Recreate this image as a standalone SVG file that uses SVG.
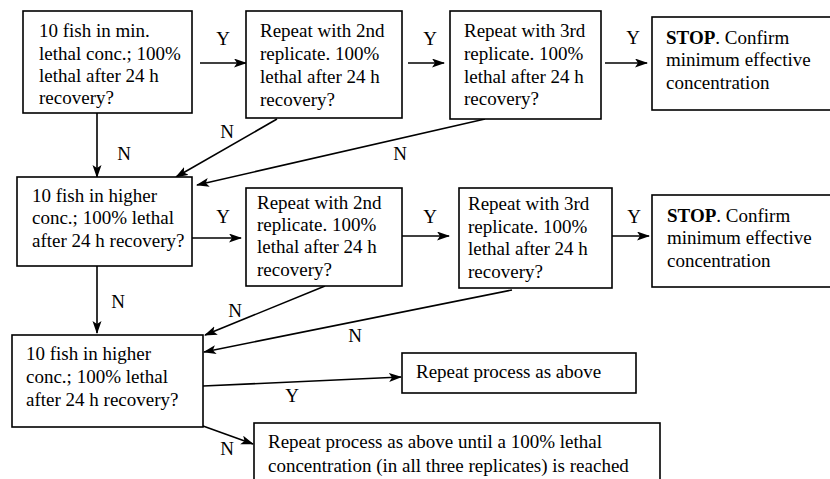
<svg xmlns="http://www.w3.org/2000/svg" width="830" height="479" viewBox="0 0 830 479">
<style>
rect{fill:#fff;stroke:#000;stroke-width:1.6}
text{font-family:'Liberation Serif','Times New Roman','DejaVu Serif',Times,serif;font-size:19px;fill:#000}
.lb{text-anchor:middle}
.c line{stroke:#000;stroke-width:1.6;marker-end:url(#ah)}
</style>
<defs>
<marker id="ah" markerUnits="userSpaceOnUse" markerWidth="14" markerHeight="10" refX="12" refY="4.5" orient="auto">
<path d="M0,0 L13,4.5 L0,9 L3,4.5 z" fill="#000"/>
</marker>
</defs>
<rect x="0" y="0" width="830" height="479" style="stroke:none"/>
<g class="c" id="connectors">
<line x1="200" y1="63" x2="246" y2="63"/>
<line x1="408" y1="63" x2="444" y2="63"/>
<line x1="605" y1="63" x2="647" y2="63"/>
<line x1="97" y1="113" x2="97" y2="177"/>
<line x1="277" y1="119" x2="176" y2="177"/>
<line x1="485" y1="119" x2="197" y2="185"/>
<line x1="192" y1="238" x2="241" y2="238"/>
<line x1="402" y1="236" x2="449" y2="236"/>
<line x1="612" y1="236" x2="649" y2="236"/>
<line x1="97" y1="266" x2="97" y2="333"/>
<line x1="325" y1="286" x2="205" y2="335"/>
<line x1="512" y1="290" x2="204" y2="352"/>
<line x1="203" y1="386" x2="401" y2="377"/>
<line x1="203" y1="426" x2="253" y2="444"/>
<text class="lb" x="223" y="45">Y</text>
<text class="lb" x="430" y="45">Y</text>
<text class="lb" x="633" y="44">Y</text>
<text class="lb" x="124" y="160">N</text>
<text class="lb" x="227" y="138">N</text>
<text class="lb" x="400" y="160">N</text>
<text class="lb" x="223" y="223">Y</text>
<text class="lb" x="430" y="223">Y</text>
<text class="lb" x="634" y="223">Y</text>
<text class="lb" x="118" y="308">N</text>
<text class="lb" x="235" y="317">N</text>
<text class="lb" x="355" y="342">N</text>
<text class="lb" x="292" y="402">Y</text>
<text class="lb" x="227" y="455">N</text>
</g>
<g id="a1">
<rect x="23" y="11" width="169" height="102"/>
<text x="39" y="37">10 fish in min.</text>
<text x="39" y="60">lethal conc.; 100%</text>
<text x="39" y="82">lethal after 24 h</text>
<text x="39" y="104">recovery?</text>
</g>
<g id="a2">
<rect x="246" y="11" width="156" height="107"/>
<text x="260" y="37">Repeat with 2nd</text>
<text x="260" y="60">replicate. 100%</text>
<text x="260" y="83">lethal after 24 h</text>
<text x="260" y="106">recovery?</text>
</g>
<g id="a3">
<rect x="450" y="11" width="151" height="108"/>
<text x="464" y="37">Repeat with 3rd</text>
<text x="464" y="60">replicate. 100%</text>
<text x="464" y="83">lethal after 24 h</text>
<text x="464" y="105">recovery?</text>
</g>
<g id="a4">
<rect x="652" y="17" width="190" height="93"/>
<text x="666" y="44"><tspan font-weight="bold">STOP</tspan>. Confirm</text>
<text x="666" y="66">minimum effective</text>
<text x="666" y="89">concentration</text>
</g>
<g id="b1">
<rect x="17" y="177" width="175" height="89"/>
<text x="32" y="202">10 fish in higher</text>
<text x="32" y="224">conc.; 100% lethal</text>
<text x="32" y="247">after 24 h recovery?</text>
</g>
<g id="b2">
<rect x="246" y="188" width="156" height="98"/>
<text x="257" y="209">Repeat with 2nd</text>
<text x="257" y="231">replicate. 100%</text>
<text x="257" y="253">lethal after 24 h</text>
<text x="257" y="276">recovery?</text>
</g>
<g id="b3">
<rect x="459" y="188" width="153" height="100"/>
<text x="468" y="210">Repeat with 3rd</text>
<text x="468" y="233">replicate. 100%</text>
<text x="468" y="255">lethal after 24 h</text>
<text x="468" y="278">recovery?</text>
</g>
<g id="b4">
<rect x="652" y="195" width="190" height="92"/>
<text x="667" y="222"><tspan font-weight="bold">STOP</tspan>. Confirm</text>
<text x="667" y="244">minimum effective</text>
<text x="667" y="267">concentration</text>
</g>
<g id="c1">
<rect x="12" y="335" width="191" height="92"/>
<text x="26" y="360">10 fish in higher</text>
<text x="26" y="383">conc.; 100% lethal</text>
<text x="26" y="406">after 24 h recovery?</text>
</g>
<g id="c2">
<rect x="402" y="353" width="234" height="40"/>
<text x="416" y="378">Repeat process as above</text>
</g>
<g id="c3">
<rect x="254" y="423" width="406" height="70"/>
<text x="268" y="448">Repeat process as above until a 100% lethal</text>
<text x="268" y="472">concentration (in all three replicates) is reached</text>
</g>
</svg>
